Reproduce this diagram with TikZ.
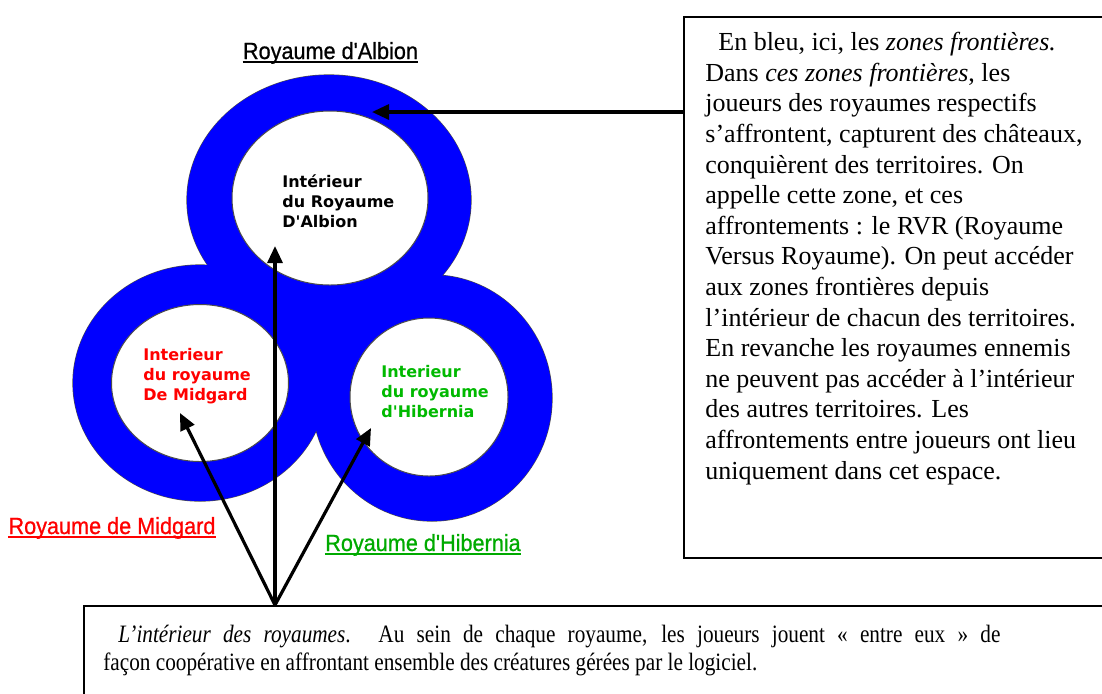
\documentclass[tikz,border=0pt]{standalone}
\usepackage{fontspec}
\setmainfont{Liberation Serif}
\newfontfamily\labelfont{Liberation Sans}[Ligatures=TeXOff, FakeStretch=0.925, FakeBold=0.8]
\newfontfamily\innerfont{DejaVu Sans}[Ligatures=TeXOff]
\usetikzlibrary{arrows.meta}
\definecolor{zoneblue}{RGB}{0,0,255}
\definecolor{midred}{RGB}{255,0,0}
\definecolor{hibgreen}{RGB}{0,185,0}
\definecolor{hibtitle}{RGB}{0,170,0}
\begin{document}
\begin{tikzpicture}[x=0.5pt,y=-0.5pt,
  ringedge/.style={draw=black!70, line width=0.6pt},
  zone/.style={fill=zoneblue},
  hole/.style={fill=white, draw=black!70, line width=0.5pt},
  inner/.style={font=\innerfont\bfseries\fontsize{8}{10}\selectfont, align=left, inner sep=0pt, anchor=west},
  title/.style={font=\labelfont\fontsize{11.7}{13}\selectfont, inner sep=0pt, anchor=base},
  uline/.style={line width=0.6pt},
  textbox/.style={draw, line width=1pt},
  boxtext/.style={inner sep=0pt, align=left, anchor=north west},
  arr/.style={line width=1.6pt, -{Triangle[length=8.5pt,width=7.5pt]}},
]
\useasboundingbox (0,0) rectangle (1102,693);
\clip (0,0) rectangle (1102,693);

% outer edges of the frontier zones
\draw[ringedge] (329,200) ellipse [x radius=142, y radius=125];
\draw[ringedge] (200,383) ellipse [x radius=127, y radius=118];
\draw[ringedge] (432,398) ellipse [x radius=120, y radius=123];
% blue frontier zones
\fill[zone] (329,200) ellipse [x radius=142, y radius=125];
\fill[zone] (200,383) ellipse [x radius=127, y radius=118];
\fill[zone] (432,398) ellipse [x radius=120, y radius=123];
\fill[zone] (329,200) -- (200,383) -- (432,398) -- cycle;
% interiors
\draw[hole] (330,198) ellipse [x radius=98, y radius=87];
\draw[hole] (200,383) ellipse [x radius=88.5, y radius=78.5];
\draw[hole] (429,397) ellipse [x radius=79, y radius=79];

% interior labels
\node[inner, text=black] (tAl) at (282,201) {Intérieur\\du Royaume\\D'Albion};
\node[inner, text=midred] (tMi) at (143,376) {Interieur\\du royaume\\De Midgard};
\node[inner, text=hibgreen] (tHi) at (381,392) {Interieur\\du royaume\\d'Hibernia};

% kingdom titles
\node[title, text=black] (nAl) at (330.5,59) {Royaume d'Albion};
\draw[uline, black] ([yshift=-1.5pt]nAl.base west) -- ([yshift=-1.5pt]nAl.base east);
\node[title, text=midred] (nMi) at (112,534) {Royaume de Midgard};
\draw[uline, midred] ([yshift=-1.5pt]nMi.base west) -- ([yshift=-1.5pt]nMi.base east);
\node[title, text=hibtitle] (nHi) at (423,551) {Royaume d'Hibernia};
\draw[uline, hibtitle] ([yshift=-1.5pt]nHi.base west) -- ([yshift=-1.5pt]nHi.base east);

% right text box
\node[textbox, anchor=north west, minimum width=215pt, minimum height=270.5pt] (rbox) at (683,16) {};
\node[boxtext, font=\fontsize{13}{15.3}\selectfont] (rtext) at (705,32) {%
\hspace*{6.5pt}En bleu, ici, les \textit{zones frontières.}\\
Dans \textit{ces zones frontières}, les\\
joueurs des royaumes respectifs\\
s’affrontent, capturent des châteaux,\\
conquièrent des territoires. On\\
appelle cette zone, et ces\\
affrontements : le RVR (Royaume\\
Versus Royaume). On peut accéder\\
aux zones frontières depuis\\
l’intérieur de chacun des territoires.\\
En revanche les royaumes ennemis\\
ne peuvent pas accéder à l’intérieur\\
des autres territoires. Les\\
affrontements entre joueurs ont lieu\\
uniquement dans cet espace.};

% bottom text box
\node[textbox, anchor=north west, minimum width=520pt, minimum height=60pt] (bbox) at (83,605) {};
\node[boxtext, font=\addfontfeatures{FakeStretch=0.85}\fontsize{12.5}{14}\selectfont] (btext) at (103,625) {%
\makebox[448.5pt][s]{\hspace*{7.5pt}\textit{L’intérieur des royaumes}. Au sein de chaque royaume, les joueurs jouent « entre eux » de}\\
façon coopérative en affrontant ensemble des créatures gérées par le logiciel.};

% arrows
\coordinate (tipZone) at (372,112);
\coordinate (src) at (275,605);
\coordinate (tipAl) at (275,246);
\coordinate (tipMi) at (180,413);
\coordinate (tipHi) at (371,428);
\draw[arr] (rbox.west |- tipZone) -- (tipZone);
\draw[arr] (src) -- (tipAl);
\draw[arr] (src) -- (tipMi);
\draw[arr] (src) -- (tipHi);
\end{tikzpicture}
\end{document}
